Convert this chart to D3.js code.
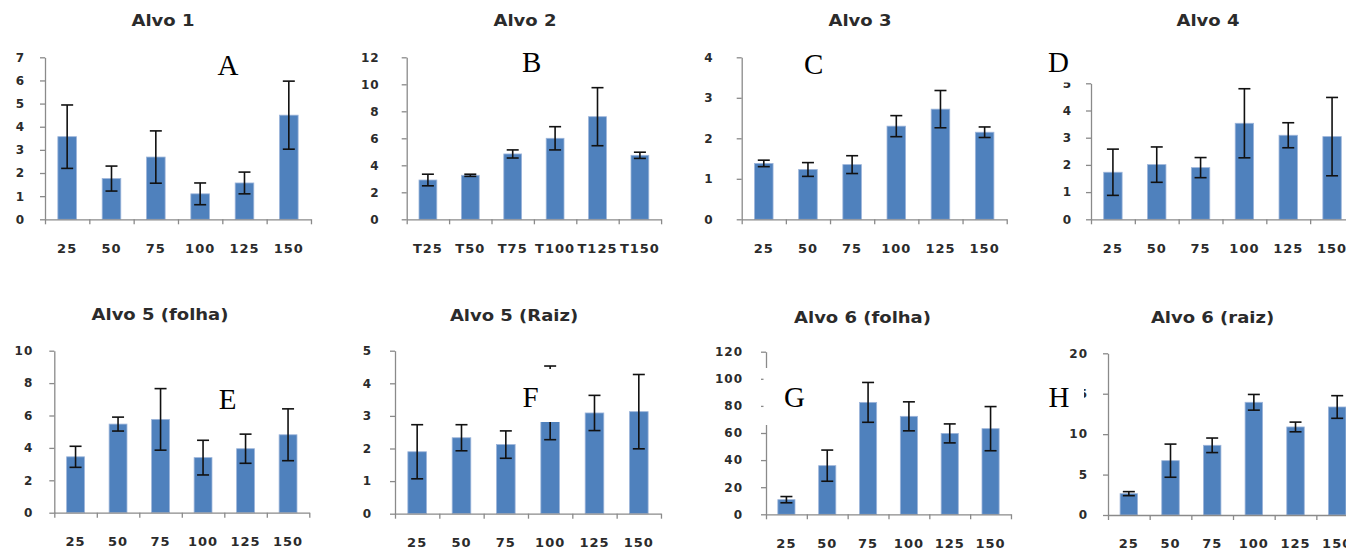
<!DOCTYPE html>
<html>
<head>
<meta charset="utf-8">
<script src="https://cdn.jsdelivr.net/npm/d3@7"></script>
<style>
  html, body { margin: 0; padding: 0; background: #fff; }
  svg { display: block; }
</style>
</head>
<body>
<div id="chart"></div>
<script>
// categories and tick labels
var cats = ["25", "50", "75", "100", "125", "150"];
var catsT = ["T25", "T50", "T75", "T100", "T125", "T150"];
var titles = ["Alvo 1", "Alvo 2", "Alvo 3", "Alvo 4",
              "Alvo 5 (folha)", "Alvo 5 (Raiz)", "Alvo 6 (folha)", "Alvo 6 (raiz)"];
var letters = ["A", "B", "C", "D", "E", "F", "G", "H"];
var yMax = [7, 12, 4, 5, 10, 5, 120, 20];
var yStep = [1, 2, 1, 1, 2, 1, 20, 5];

// means and error bars
var alvo1 = [3.57, 1.76, 2.69, 1.10, 1.57, 4.50];
var alvo1Err = [1.37, 0.54, 1.13, 0.47, 0.47, 1.47];
var alvo2 = [2.91, 3.26, 4.84, 6.00, 7.60, 4.74];
var alvo2Err = [0.43, 0.08, 0.30, 0.86, 2.15, 0.23];
var alvo3 = [1.38, 1.23, 1.35, 2.30, 2.72, 2.15];
var alvo3Err = [0.08, 0.17, 0.22, 0.26, 0.46, 0.13];
var alvo4 = [1.73, 2.01, 1.90, 3.53, 3.09, 3.04];
var alvo4Err = [0.85, 0.65, 0.37, 1.27, 0.46, 1.44];
var alvo5Folha = [3.45, 5.47, 5.76, 3.40, 3.95, 4.81];
var alvo5FolhaErr = [0.65, 0.43, 1.90, 1.07, 0.90, 1.60];
var alvo5Raiz = [1.90, 2.33, 2.12, 3.40, 3.09, 3.13];
var alvo5RaizErr = [0.83, 0.40, 0.42, 1.13, 0.54, 1.14];
var alvo6Folha = [10.8, 35.9, 82.6, 72.3, 59.7, 63.2];
var alvo6FolhaErr = [2.3, 11.5, 14.7, 10.7, 7.0, 16.3];
var alvo6Raiz = [2.64, 6.72, 8.62, 13.94, 10.89, 13.36];
var alvo6RaizErr = [0.25, 2.05, 0.90, 0.97, 0.60, 1.40];

var series = [alvo1, alvo2, alvo3, alvo4, alvo5Folha, alvo5Raiz, alvo6Folha, alvo6Raiz];
var errors = [alvo1Err, alvo2Err, alvo3Err, alvo4Err, alvo5FolhaErr, alvo5RaizErr, alvo6FolhaErr, alvo6RaizErr];

// where each little chart sits on the page
var layout = [
  {x0: 45,    top: 57.3,  zero: 219.3, step: 44.33, title: [163, 20.5],    letter: [228, 65],      box: null,                   gap: 20},
  {x0: 406.7, top: 57.3,  zero: 219.3, step: 42.4,  title: [525, 20.5],    letter: [531.7, 62],    box: null,                   gap: 27},
  {x0: 741.7, top: 57.3,  zero: 219.3, step: 44.17, title: [860, 20.5],    letter: [813.7, 64],    box: null,                   gap: 28},
  {x0: 1091,  top: 83.3,  zero: 219.3, step: 43.83, title: [1208, 20.5],   letter: [1058.5, 62.5], box: [1035, 40, 50, 42.5],   gap: 19},
  {x0: 54.3,  top: 350.7, zero: 512.7, step: 42.5,  title: [160, 315],     letter: [227.5, 399],   box: null,                   gap: 21},
  {x0: 395,   top: 350.7, zero: 513.7, step: 44.33, title: [514, 316],     letter: [530.5, 397.5], box: [505, 369, 57, 53],     gap: 23},
  {x0: 766,   top: 351.7, zero: 514.3, step: 40.83, title: [862.5, 318],   letter: [794.5, 397.5], box: [763.5, 368, 58, 57],   gap: 23},
  {x0: 1108,  top: 353.3, zero: 515,   step: 41.67, title: [1212.5, 317.5], letter: [1059, 397.5], box: [1038, 362, 46, 64],    gap: 20}
];

var W = 1346, H = 552;
var axisColor = "#8a8a8a";
var barColor = "#4f81bd";

var svg = d3.select("#chart").append("svg")
    .attr("width", W).attr("height", H);

series.forEach(function(vals, i) {
  var L = layout[i];
  var g = svg.append("g");
  var labels = i === 1 ? catsT : cats;

  var xEnd = L.x0 + 6 * L.step;
  var x = d3.scaleBand().domain(labels).range([L.x0, xEnd])
      .paddingInner(0.58).paddingOuter(0.29);
  var xEdge = d3.scaleLinear().domain([0, 6]).range([L.x0, xEnd]);
  var y = d3.scaleLinear().domain([0, yMax[i]]).range([L.zero, L.top]);

  // bars
  g.selectAll("rect.bar").data(vals).enter().append("rect")
    .attr("class", "bar")
    .attr("x", function(d, j) { return x(labels[j]); })
    .attr("y", function(d) { return y(d); })
    .attr("width", x.bandwidth())
    .attr("height", function(d) { return y(0) - y(d); })
    .attr("fill", barColor)
    .attr("stroke", "#9db5da")
    .attr("stroke-width", 0.8);

  // y axis
  var yAxis = d3.axisLeft(y)
      .tickValues(d3.range(0, yMax[i] + yStep[i] / 2, yStep[i]))
      .tickFormat(d3.format("d"))
      .tickSize(5).tickSizeOuter(0).tickPadding(L.gap - 5);
  var ga = g.append("g").attr("transform", "translate(" + L.x0 + ",0)").call(yAxis);

  // x axis: boundary ticks, then centred labels
  var gx = g.append("g").attr("transform", "translate(0," + L.zero + ")")
      .call(d3.axisBottom(xEdge).tickValues(d3.range(7)).tickFormat("")
        .tickSize(5).tickSizeOuter(0));
  var gl = g.append("g").attr("transform", "translate(0," + L.zero + ")")
      .call(d3.axisBottom(x).tickSize(0).tickPadding(24));
  gl.select(".domain").remove();

  [ga, gx].forEach(function(s) {
    s.select(".domain").attr("stroke", axisColor).attr("stroke-width", 1.3);
    s.selectAll(".tick line").attr("stroke", axisColor).attr("stroke-width", 1.3);
  });
  ga.selectAll("text")
    .attr("font-family", "DejaVu Sans").attr("font-weight", "bold")
    .attr("font-size", 12).attr("letter-spacing", 1).attr("fill", "#2b2b2b");
  gl.selectAll("text")
    .attr("font-family", "DejaVu Sans").attr("font-weight", "bold")
    .attr("font-size", 13).attr("letter-spacing", 1).attr("fill", "#2b2b2b");

  // error bars
  var cap = 6;
  var eb = g.selectAll("g.err").data(vals).enter().append("g").attr("class", "err")
    .attr("stroke", "#111").attr("stroke-width", 1.6).attr("fill", "none");
  eb.append("line")
    .attr("x1", function(d, j) { return x(labels[j]) + x.bandwidth() / 2; })
    .attr("x2", function(d, j) { return x(labels[j]) + x.bandwidth() / 2; })
    .attr("y1", function(d, j) { return y(d + errors[i][j]); })
    .attr("y2", function(d, j) { return y(d - errors[i][j]); });
  [1, -1].forEach(function(sgn) {
    eb.append("line")
      .attr("x1", function(d, j) { return x(labels[j]) + x.bandwidth() / 2 - cap; })
      .attr("x2", function(d, j) { return x(labels[j]) + x.bandwidth() / 2 + cap; })
      .attr("y1", function(d, j) { return y(d + sgn * errors[i][j]); })
      .attr("y2", function(d, j) { return y(d + sgn * errors[i][j]); });
  });

  // title
  g.append("text")
    .attr("transform", "translate(" + L.title[0] + "," + L.title[1] + ") scale(1.2,1)")
    .attr("text-anchor", "middle").attr("dy", "0.36em")
    .attr("font-family", "DejaVu Sans").attr("font-weight", "bold")
    .attr("font-size", 15).attr("fill", "#2b2b2b")
    .text(titles[i]);

  // panel letter on its white text box
  if (L.box) {
    g.append("rect")
      .attr("x", L.box[0]).attr("y", L.box[1])
      .attr("width", L.box[2]).attr("height", L.box[3])
      .attr("fill", "#fff");
  }
  g.append("text")
    .attr("x", L.letter[0]).attr("y", L.letter[1])
    .attr("text-anchor", "middle").attr("dy", "0.34em")
    .attr("font-family", "Liberation Serif")
    .attr("font-size", 29).attr("fill", "#000")
    .text(letters[i]);
});
</script>
</body>
</html>
